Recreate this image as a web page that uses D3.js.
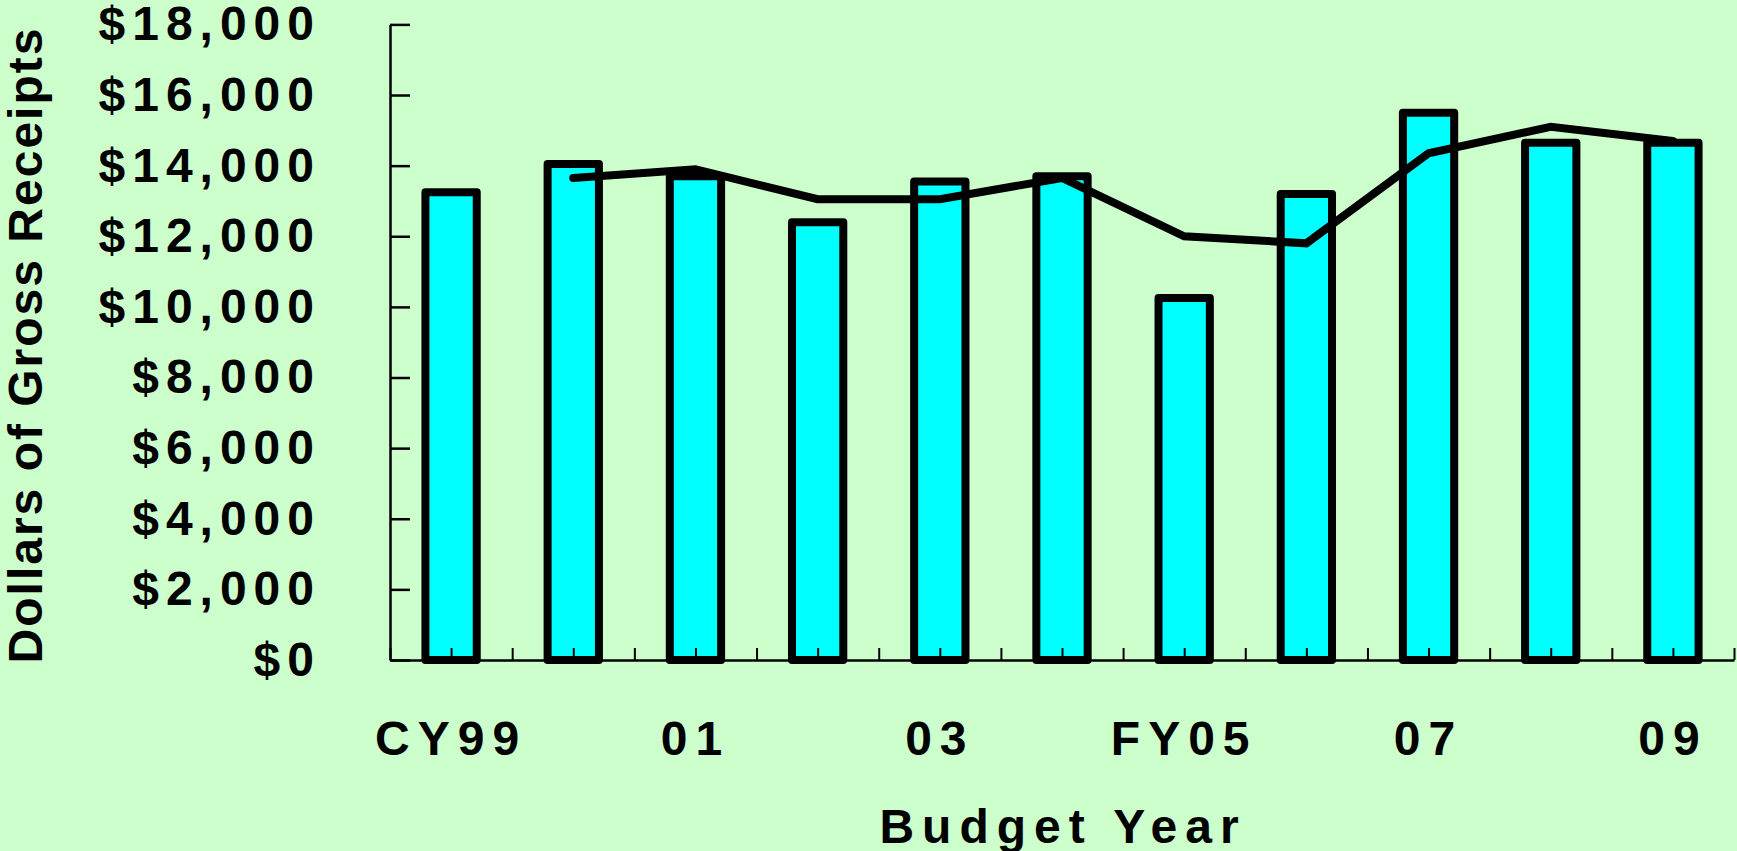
<!DOCTYPE html>
<html>
<head>
<meta charset="utf-8">
<script src="https://cdn.jsdelivr.net/npm/d3@7"></script>
<style>
  html, body { margin: 0; padding: 0; background: #ccffcc; }
  svg { display: block; }
  text { font-family: "Liberation Sans", Arial, sans-serif; font-weight: bold; fill: #000; }
</style>
</head>
<body>
<script>
// budget years, one per bar
const years = ["CY99", "00", "01", "02", "03", "04", "FY05", "06", "07", "08", "09"];
// only every other year gets a label
const yearLabels = ["CY99", "01", "03", "FY05", "07", "09"];
// bar values (dollars of gross receipts)
const barValues = [13250, 14050, 13700, 12400, 13550, 13700, 10250, 13200, 15500, 14650, 14650];
// black line, starts at the second year
const lineValues = [null, 13650, 13900, 13050, 13050, 13650, 12000, 11800, 14350, 15100, 14700];
const yTicks = [0, 2000, 4000, 6000, 8000, 10000, 12000, 14000, 16000, 18000];

const W = 1737, H = 851;
const margin = { top: 24.4, right: 3, bottom: 191, left: 390 };
const width = W - margin.left - margin.right,
    height = H - margin.top - margin.bottom;

const svg = d3.select("body").append("svg")
    .attr("width", W)
    .attr("height", H);

svg.append("rect").attr("width", W).attr("height", H).attr("fill", "#ccffcc");

const g = svg.append("g")
    .attr("transform", "translate(" + margin.left + "," + margin.top + ")");

const x = d3.scaleBand().domain(years).range([0, width]).padding(0);
const y = d3.scaleLinear().domain([0, 18000]).range([height, 0]);
// half-category positions for the small x ticks
const xTickScale = d3.scaleLinear().domain([0, years.length]).range([0, width]);

const barW = x.bandwidth() * 0.42;

// bars
g.selectAll(".bar")
    .data(barValues)
    .enter().append("rect")
    .attr("class", "bar")
    .attr("x", (d, i) => x(years[i]) + (x.bandwidth() - barW) / 2)
    .attr("y", d => y(d))
    .attr("width", barW)
    .attr("height", d => height - y(d))
    .attr("fill", "#00ffff")
    .attr("stroke", "#000")
    .attr("stroke-width", 8)
    .attr("stroke-linejoin", "round");

// line
const line = d3.line()
    .defined(d => d != null)
    .x((d, i) => x(years[i]) + x.bandwidth() / 2)
    .y(d => y(d));

g.append("path")
    .datum(lineValues)
    .attr("d", line)
    .attr("fill", "none")
    .attr("stroke", "#000")
    .attr("stroke-width", 8)
    .attr("stroke-linecap", "round")
    .attr("stroke-linejoin", "miter");

// y axis
const yAxis = d3.axisLeft(y)
    .tickValues(yTicks)
    .tickSize(-20)
    .tickSizeOuter(0)
    .tickPadding(69)
    .tickFormat(d => "$" + d3.format(",")(d));

const yg = g.append("g").call(yAxis);
yg.select(".domain").attr("stroke-width", 2.5);
yg.selectAll(".tick line").attr("stroke-width", 2.5);
yg.selectAll("text")
    .attr("font-size", 48)
    .attr("letter-spacing", 7)
    .attr("font-family", null);

// x axis: small upward ticks every half category
const xTickAxis = d3.axisBottom(xTickScale)
    .tickValues(d3.range(0, years.length + 0.5, 0.5))
    .tickSize(-12)
    .tickSizeOuter(0)
    .tickFormat("");

const xtg = g.append("g")
    .attr("transform", "translate(0," + height + ")")
    .call(xTickAxis);
xtg.select(".domain").attr("stroke-width", 2.5);
xtg.selectAll(".tick line").attr("stroke-width", 2);

// x axis labels
const xAxis = d3.axisBottom(x)
    .tickSize(0)
    .tickPadding(61)
    .tickFormat(d => yearLabels.includes(d) ? d : "");

const xg = g.append("g")
    .attr("transform", "translate(0," + height + ")")
    .call(xAxis);
xg.select(".domain").remove();
xg.selectAll("text")
    .attr("font-size", 48)
    .attr("letter-spacing", 8)
    .attr("font-family", null);

// axis titles
svg.append("text")
    .attr("x", 1063)
    .attr("y", 843)
    .attr("text-anchor", "middle")
    .attr("font-size", 48)
    .attr("letter-spacing", 8)
    .text("Budget Year");

svg.append("text")
    .attr("transform", "translate(42,345) rotate(-90)")
    .attr("text-anchor", "middle")
    .attr("font-size", 48)
    .attr("letter-spacing", 2)
    .text("Dollars of Gross Receipts");
</script>
</body>
</html>
